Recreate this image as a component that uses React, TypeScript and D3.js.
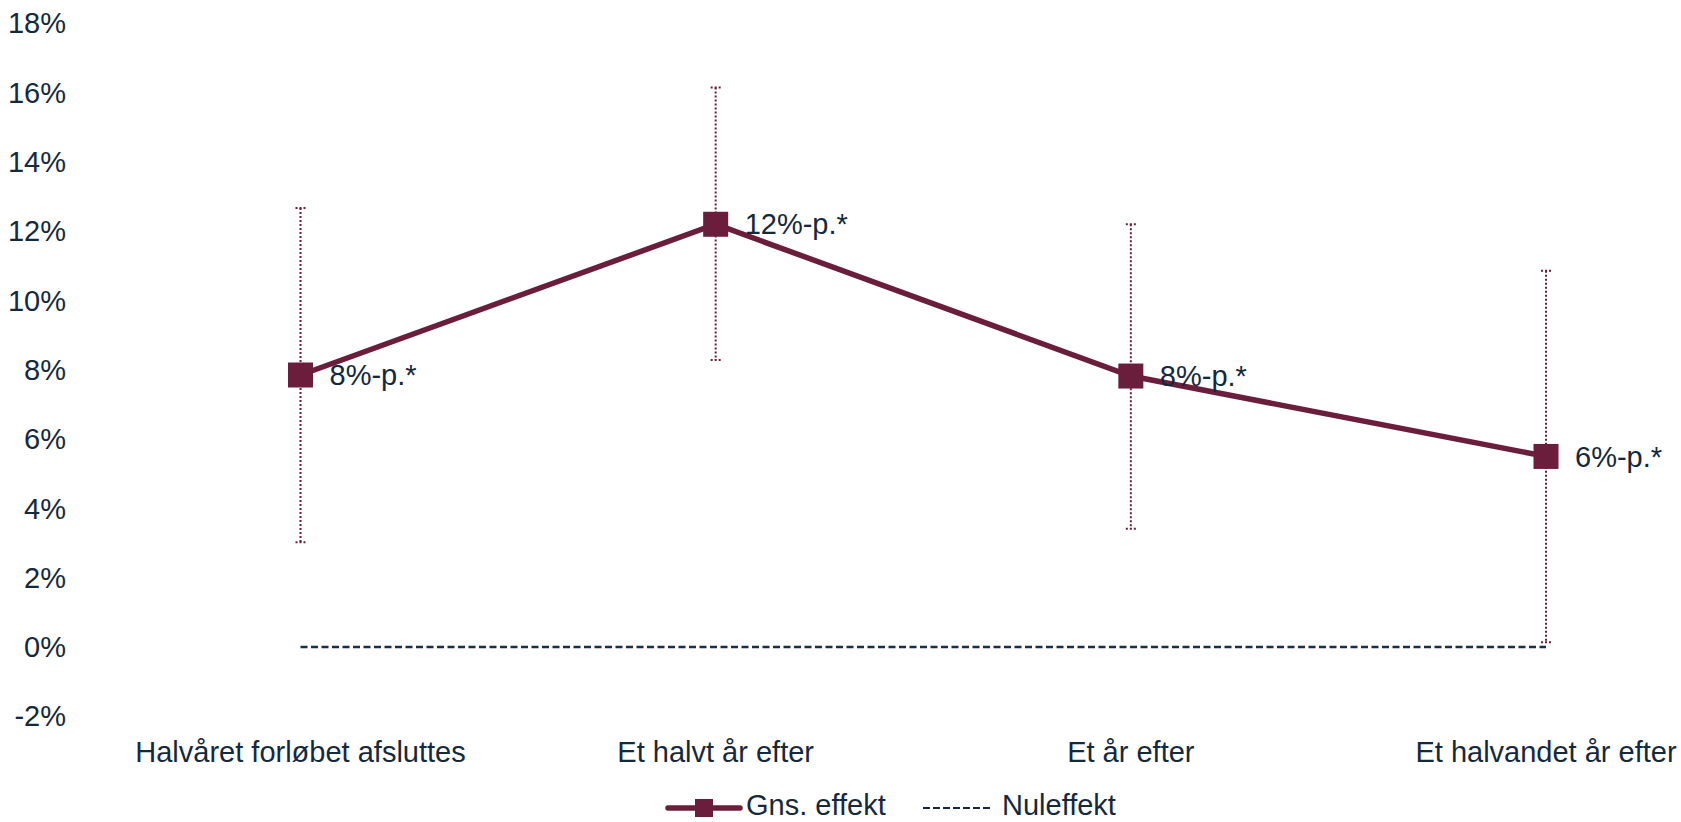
import React from "react";
import * as d3 from "d3";

const categories = [
  "Halvåret forløbet afsluttes",
  "Et halvt år efter",
  "Et år efter",
  "Et halvandet år efter",
];
const effect = [7.85, 12.2, 7.82, 5.5];
const lower = [3.02, 8.28, 3.41, 0.14];
const upper = [12.67, 16.15, 12.2, 10.86];
const labels = ["8%-p.*", "12%-p.*", "8%-p.*", "6%-p.*"];
const yTicks = [-2, 0, 2, 4, 6, 8, 10, 12, 14, 16, 18];
const legendNames = ["Gns. effekt", "Nuleffekt"];

const W = 1681;
const H = 822;
const MAROON = "#6a1e3c";
const TEXT = "#15293d";
const FONT = "'Liberation Sans', Arial, sans-serif";

export default function App() {
  const x = d3.scalePoint<string>().domain(categories).range([300.5, 1546]);
  const y = d3.scaleLinear().domain([-2, 18]).range([716.3, 23.3]);
  const line = d3
    .line<number>()
    .x((_, i) => x(categories[i]) as number)
    .y((d) => y(d));
  const m = 25;
  const x0 = x(categories[0]) as number;
  const x3 = x(categories[categories.length - 1]) as number;

  return (
    <svg
      width={W}
      height={H}
      style={{ position: "absolute", left: 0, top: 0, background: "#fff" }}
      fontFamily={FONT}
    >
      {yTicks.map((t) => (
        <text
          key={t}
          x={66}
          y={y(t)}
          dy="0.35em"
          textAnchor="end"
          fontSize={29}
          fill={TEXT}
        >
          {t}%
        </text>
      ))}
      {categories.map((c) => (
        <text
          key={c}
          x={x(c) as number}
          y={762}
          textAnchor="middle"
          fontSize={29}
          fill={TEXT}
        >
          {c}
        </text>
      ))}
      {/* zero line */}
      <line
        x1={x0}
        x2={x3}
        y1={y(0)}
        y2={y(0)}
        stroke="#1b2f44"
        strokeWidth={2.5}
        strokeDasharray="7,3.5"
      />
      {/* error bars */}
      {categories.map((c, i) => {
        const cx = x(c) as number;
        return (
          <g key={c} stroke={MAROON} strokeWidth={2} strokeDasharray="2,2">
            <line x1={cx} x2={cx} y1={y(upper[i])} y2={y(lower[i])} />
            <line x1={cx - 5} x2={cx + 5} y1={y(upper[i])} y2={y(upper[i])} />
            <line x1={cx - 5} x2={cx + 5} y1={y(lower[i])} y2={y(lower[i])} />
          </g>
        );
      })}
      <path d={line(effect) || ""} fill="none" stroke={MAROON} strokeWidth={5.5} />
      {categories.map((c, i) => (
        <rect
          key={c}
          x={(x(c) as number) - m / 2}
          y={y(effect[i]) - m / 2}
          width={m}
          height={m}
          fill={MAROON}
        />
      ))}
      {categories.map((c, i) => (
        <text
          key={c}
          x={(x(c) as number) + 29}
          y={y(effect[i])}
          dy="0.35em"
          fontSize={29}
          fill={TEXT}
        >
          {labels[i]}
        </text>
      ))}
      {/* legend */}
      <g>
        <line x1={668} x2={740} y1={808} y2={808} stroke={MAROON} strokeWidth={5.5} strokeLinecap="round" />
        <rect x={695} y={799} width={18} height={18} fill={MAROON} />
        <text x={746} y={815} fontSize={29} fill={TEXT}>
          {legendNames[0]}
        </text>
        <line x1={923} x2={992} y1={808} y2={808} stroke={TEXT} strokeWidth={2} strokeDasharray="7,3" />
        <text x={1002} y={815} fontSize={29} fill={TEXT}>
          {legendNames[1]}
        </text>
      </g>
    </svg>
  );
}
